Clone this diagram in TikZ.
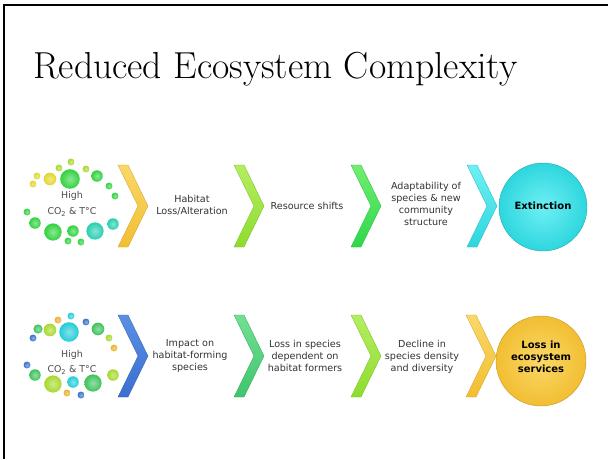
\documentclass[tikz,border=0pt]{standalone}
\usepackage{fontspec}
\newfontfamily\lab{DejaVu Sans}
\usetikzlibrary{shapes.geometric}
\definecolor{cyel}{HTML}{F2BE32}
\definecolor{cyelL}{HTML}{FAD868}
\definecolor{clime}{HTML}{8EDC2E}
\definecolor{climeL}{HTML}{B4EE60}
\definecolor{cgrn}{HTML}{2ED84A}
\definecolor{cgrnL}{HTML}{70EE70}
\definecolor{ccyan}{HTML}{2ED6DE}
\definecolor{ccyanL}{HTML}{6EF0F4}
\definecolor{cblue}{HTML}{3A6FCF}
\definecolor{cblueL}{HTML}{5A90E4}
\definecolor{cmgrn}{HTML}{3EC56E}
\definecolor{cmgrnL}{HTML}{72E090}
\definecolor{bY}{HTML}{E2D62E}
\definecolor{bYG}{HTML}{A8D82C}
\definecolor{bG}{HTML}{30D23E}
\definecolor{bT}{HTML}{26CEB0}
\definecolor{bC}{HTML}{22CCD8}
\definecolor{bB}{HTML}{3470CC}
\definecolor{bO}{HTML}{EAB02C}
\definecolor{bMG}{HTML}{3EC25C}
\tikzset{
  x=1pt,y=-1pt,
  lbl/.style={font=\lab\fontsize{9.6}{11.8}\selectfont, align=center, text=black!80, inner sep=0pt},
  clbl/.style={font=\lab\bfseries\fontsize{10}{12}\selectfont, align=center, text=black, inner sep=0pt},
  hl/.style={font=\lab\fontsize{9.4}{11}\selectfont, text=black!70, inner sep=0pt},
}
\newcommand{\chev}[4]{% x0, yc, light, dark
  \shade[top color=#3, bottom color=#4, draw=#4!85!black, line width=0.3pt]
    (#1,#2-41) -- (#1+10,#2-41) -- (#1+30,#2) -- (#1+10,#2+41) -- (#1,#2+41) -- (#1+20,#2) -- cycle;
}
\newcommand{\bub}[4]{% x,y,r,color
  \shade[inner color=#4!55!white, outer color=#4] (#1,#2) circle (#3*1.15);
}
\begin{document}
\begin{tikzpicture}
\useasboundingbox (0,0) rectangle (608,459);
\fill[white] (0,0) rectangle (608,459);
% frame (top and left)
\draw[line width=2.4pt, black] (4,459) -- (4,5) -- (608,5);
% title
\node[anchor=base west, inner sep=0pt, font=\fontsize{37.6}{40}\selectfont] (title) at (33,78) {Reduced Ecosystem Complexity};

% ===== Row 1 =====
\bub{33}{184}{3}{bY}
\bub{37}{176}{3}{bY}
\bub{50}{179}{5.5}{bY}
\bub{59}{168}{3}{bYG}
\bub{71}{162}{3}{bYG}
\bub{70}{179}{8.5}{bG}
\bub{86}{169}{3}{bYG}
\bub{97}{176}{5}{bG}
\bub{109}{186}{3}{bG}
\bub{115}{196}{3}{bG}
\bub{27}{212}{3}{bG}
\bub{35}{223}{5}{bG}
\bub{53}{232}{7.5}{bG}
\bub{73}{231}{5}{bG}
\bub{68}{241}{3}{bG}
\bub{81}{242}{3}{bG}
\bub{95}{231}{7.5}{bT}
\bub{113}{224}{5}{bT}
\node[hl] (h1) at (72,196) {High};
\node[hl] (c1) at (72,212) {CO\textsubscript{2} \& T°C};

\chev{118}{206}{cyelL}{cyel}
\chev{234}{206}{climeL}{clime}
\chev{351}{206}{cgrnL}{cgrn}
\chev{467}{206}{ccyanL}{ccyan}
\node[lbl] (a1) at (192,205) {Habitat\\Loss/Alteration};
\node[lbl] (a2) at (307,206) {Resource shifts};
\node[lbl] (a3) at (426,204) {Adaptability of\\species \& new\\community\\structure};
\shade[inner color=ccyanL, outer color=ccyan] (543,207) circle (44);
\draw[ccyan!80!black, line width=0.4pt] (543,207) circle (44);
\node[clbl] (ext) at (543,206) {Extinction};

% ===== Row 2 =====
\bub{71}{316}{3}{bC}
\bub{58}{320}{3}{bO}
\bub{86}{322}{3}{bB}
\bub{38}{329}{4}{bMG}
\bub{50}{330}{5.5}{bYG}
\bub{69}{332}{8.5}{bC}
\bub{98}{329}{5.5}{bMG}
\bub{33}{338}{3}{bB}
\bub{109}{338}{3}{bYG}
\bub{114}{348}{3}{bO}
\bub{27}{365}{3}{bB}
\bub{35}{375}{5}{bMG}
\bub{53}{384}{7.5}{bYG}
\bub{73}{382}{5}{bC}
\bub{67}{393}{3}{bO}
\bub{81}{395}{3}{bB}
\bub{93}{383}{7.5}{bMG}
\bub{113}{375}{5}{bYG}
\node[hl] (h2) at (72,355) {High};
\node[hl] (c2) at (72,370) {CO\textsubscript{2} \& T°C};

\chev{118}{356}{cblueL}{cblue}
\chev{234}{356}{cmgrnL}{cmgrn}
\chev{351}{356}{climeL}{clime}
\chev{466}{356}{cyelL}{cyel}
\node[lbl] (b1) at (190,356) {Impact on\\habitat-forming\\species};
\node[lbl] (b2) at (305,356) {Loss in species\\dependent on\\habitat formers};
\node[lbl] (b3) at (422,357) {Decline in\\species density\\and diversity};
\shade[inner color=cyelL, outer color=cyel] (541,361) circle (45);
\draw[cyel!80!black, line width=0.4pt] (541,361) circle (45);
\node[clbl] (les) at (541,357) {Loss in\\ecosystem\\services};
\end{tikzpicture}
\end{document}
